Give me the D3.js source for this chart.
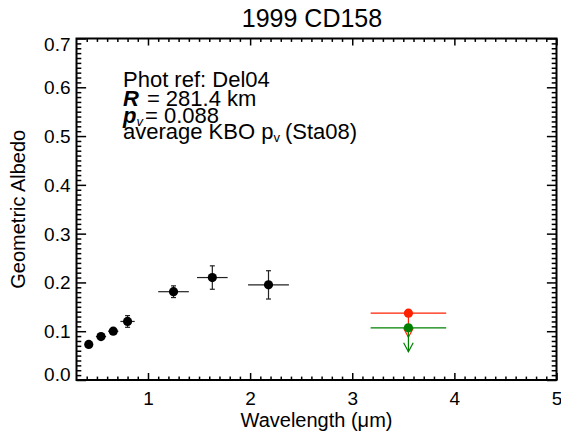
<!DOCTYPE html>
<html>
<head>
<meta charset="utf-8">
<script src="https://cdn.jsdelivr.net/npm/d3@7"></script>
<style>
body { margin: 0; background: #fff; }
text { font-family: "Liberation Sans", Arial, Helvetica, sans-serif; fill: #000; }
</style>
</head>
<body>
<div id="chart"></div>
<script>
// photometry points (wavelength in micron, geometric albedo)
var wavelength    = [0.42, 0.54, 0.66, 0.80, 1.25, 1.63, 2.18];
var wavelengthErr = [0.03, 0.05, 0.05, 0.07, 0.15, 0.15, 0.20];
var albedo        = [0.073, 0.089, 0.100, 0.120, 0.181, 0.210, 0.195];
var albedoErr     = [0.003, 0.004, 0.004, 0.012, 0.012, 0.024, 0.029];

// upper limits near 3.6 micron (red, green)
var limitWavelength    = [3.55, 3.55];
var limitWavelengthErr = [0.37, 0.37];
var limitAlbedo        = [0.137, 0.107];
var limitColors        = ["#ff2000", "#008000"];

var xTicks = [1, 2, 3, 4, 5];
var yTicks = [0, 0.1, 0.2, 0.3, 0.4, 0.5, 0.6, 0.7];

// set the dimensions and margins of the graph
var margin = {top: 38.5, right: 4.5, bottom: 57, left: 76.5},
    width = 480,
    height = 341.5;

var svg = d3.select("#chart")
    .append("svg")
    .attr("width", 561)
    .attr("height", 437);

var g = svg.append("g")
    .attr("transform", "translate(" + margin.left + "," + margin.top + ")");

var x = d3.scaleLinear().domain([0.3, 5]).range([0, width]);
var y = d3.scaleLinear().domain([0, 0.7]).range([height, 0]);

var xMinor = d3.range(4, 50).filter(function(d) { return d % 10 != 0; }).map(function(d) { return d / 10; });
var yMinor = d3.range(1, 70).filter(function(d) { return d % 10 != 0; }).map(function(d) { return d / 100; });

function styleAxis(sel) {
    sel.select(".domain").remove();
    sel.selectAll(".tick line").attr("stroke", "#000").attr("stroke-width", 1.5);
    sel.selectAll("text").style("font-size", "19px").attr("fill", "#000");
}

// X axis bottom
g.append("g")
    .attr("transform", "translate(0," + height + ")")
    .call(d3.axisBottom(x).tickValues(xTicks).tickSize(-7).tickPadding(12).tickFormat(d3.format("d")))
    .call(styleAxis);
g.append("g")
    .attr("transform", "translate(0," + height + ")")
    .call(d3.axisBottom(x).tickValues(xMinor).tickSize(-3.4).tickFormat(""))
    .call(styleAxis);
// X axis top
g.append("g")
    .call(d3.axisTop(x).tickValues(xTicks).tickSize(-7).tickFormat(""))
    .call(styleAxis);
g.append("g")
    .call(d3.axisTop(x).tickValues(xMinor).tickSize(-3.4).tickFormat(""))
    .call(styleAxis);

// Y axis left
var yAxisG = g.append("g")
    .call(d3.axisLeft(y).tickValues(yTicks).tickSize(-9.6).tickPadding(6).tickFormat(d3.format(".1f")))
    .call(styleAxis);
yAxisG.selectAll(".tick text")
    .attr("dy", function(d) { return d == 0 ? "0.0em" : (d == 0.7 ? "0.62em" : "0.34em"); });
g.append("g")
    .call(d3.axisLeft(y).tickValues(yMinor).tickSize(-4.8).tickFormat(""))
    .call(styleAxis);
// Y axis right
g.append("g")
    .attr("transform", "translate(" + width + ",0)")
    .call(d3.axisRight(y).tickValues(yTicks).tickSize(-9.6).tickFormat(""))
    .call(styleAxis);
g.append("g")
    .attr("transform", "translate(" + width + ",0)")
    .call(d3.axisRight(y).tickValues(yMinor).tickSize(-4.8).tickFormat(""))
    .call(styleAxis);

// frame
g.append("rect")
    .attr("x", 0).attr("y", 0)
    .attr("width", width).attr("height", height)
    .attr("fill", "none")
    .attr("stroke", "#000")
    .attr("stroke-width", 2);

// data points with error bars
var pts = wavelength.map(function(w, i) {
    return {w: w, we: wavelengthErr[i], a: albedo[i], ae: albedoErr[i]};
});

var pg = g.selectAll(".pt").data(pts).enter().append("g").attr("class", "pt");
pg.append("line")
    .attr("x1", function(d) { return x(d.w - d.we); })
    .attr("x2", function(d) { return x(d.w + d.we); })
    .attr("y1", function(d) { return y(d.a); })
    .attr("y2", function(d) { return y(d.a); })
    .attr("stroke", "#222").attr("stroke-width", 1.2);
pg.append("line")
    .attr("x1", function(d) { return x(d.w); })
    .attr("x2", function(d) { return x(d.w); })
    .attr("y1", function(d) { return y(d.a - d.ae); })
    .attr("y2", function(d) { return y(d.a + d.ae); })
    .attr("stroke", "#222").attr("stroke-width", 1.2);
[-1, 1].forEach(function(s) {
    pg.append("line")
        .attr("x1", function(d) { return x(d.w) - 2.5; })
        .attr("x2", function(d) { return x(d.w) + 2.5; })
        .attr("y1", function(d) { return y(d.a + s * d.ae); })
        .attr("y2", function(d) { return y(d.a + s * d.ae); })
        .attr("stroke", "#222").attr("stroke-width", 1.2);
});
pg.append("circle")
    .attr("cx", function(d) { return x(d.w); })
    .attr("cy", function(d) { return y(d.a); })
    .attr("r", 4.6)
    .attr("fill", "#000");

// upper limits
var arrowLen = 24;
limitAlbedo.forEach(function(a, i) {
    var c = limitColors[i];
    var cx = x(limitWavelength[i]), cy = y(a);
    var lg = g.append("g");
    lg.append("line")
        .attr("x1", x(limitWavelength[i] - limitWavelengthErr[i]))
        .attr("x2", x(limitWavelength[i] + limitWavelengthErr[i]))
        .attr("y1", cy).attr("y2", cy)
        .attr("stroke", c).attr("stroke-width", 1.2);
    lg.append("line")
        .attr("x1", cx).attr("x2", cx)
        .attr("y1", cy).attr("y2", cy + arrowLen)
        .attr("stroke", c).attr("stroke-width", 1.2);
    lg.append("path")
        .attr("d", "M" + (cx - 4.8) + "," + (cy + arrowLen - 9) + "L" + cx + "," + (cy + arrowLen) + "L" + (cx + 4.8) + "," + (cy + arrowLen - 9))
        .attr("fill", "none")
        .attr("stroke", c).attr("stroke-width", 1.2);
    lg.append("circle")
        .attr("cx", cx).attr("cy", cy)
        .attr("r", 4.6)
        .attr("fill", c);
});

// title
svg.append("text")
    .attr("x", 312)
    .attr("y", 27)
    .style("text-anchor", "middle")
    .style("font-size", "25px")
    .text("1999 CD158");

// axis labels
svg.append("text")
    .attr("x", margin.left + width / 2)
    .attr("y", 427)
    .style("text-anchor", "middle")
    .style("font-size", "20px")
    .text("Wavelength (\u03bcm)");

svg.append("text")
    .attr("transform", "translate(25," + (margin.top + height / 2) + ") rotate(-90)")
    .style("text-anchor", "middle")
    .style("font-size", "20px")
    .text("Geometric Albedo");

// annotation
var ann = svg.append("g").style("font-size", "22px");
ann.append("text").attr("x", 123).attr("y", 87).text("Phot ref: Del04");

var t2 = ann.append("text").attr("x", 123).attr("y", 106);
t2.append("tspan").style("font-weight", "bold").style("font-style", "italic").text("R");
t2.append("tspan").attr("dx", 8).text("= 281.4 km");

var t3 = ann.append("text").attr("x", 123).attr("y", 123);
t3.append("tspan").style("font-weight", "bold").style("font-style", "italic").text("p");
t3.append("tspan").style("font-size", "13px").style("font-style", "italic").attr("dy", 3).text("v");
t3.append("tspan").attr("dy", -3).attr("dx", 2).text("= 0.088");

var t4 = ann.append("text").attr("x", 123).attr("y", 139);
t4.append("tspan").text("average KBO p");
t4.append("tspan").style("font-size", "13px").attr("dy", 3).text("v");
t4.append("tspan").attr("dy", -3).attr("dx", 5).text("(Sta08)");
</script>
</body>
</html>
